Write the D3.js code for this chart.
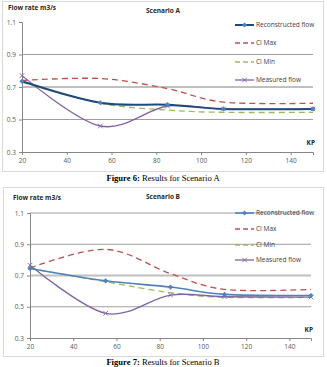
<!DOCTYPE html>
<html>
<head>
<meta charset="utf-8">
<script src="https://cdn.jsdelivr.net/npm/d3@7"></script>
<style>
  html, body { margin: 0; padding: 0; background: #fff; }
  svg { display: block; }
  .tick-label { font: 6.5px "Open Sans", sans-serif; fill: #595959; }
  .ttl { font: bold 6.5px "Open Sans", sans-serif; fill: #262626; }
  .leg { font: 6.5px "Open Sans", sans-serif; fill: #404040; }
  .cap { font: 8.6px "Liberation Serif", serif; fill: #000; }
</style>
</head>
<body>
<svg id="chart" width="327" height="367"></svg>
<script>
const kp = [20, 55, 85, 110, 150];
const xTicks = [20, 40, 60, 80, 100, 120, 140];
const yTicks = [0.3, 0.5, 0.7, 0.9, 1.1];
const seriesNames = ["Reconstructed flow", "CI Max", "CI Min", "Measured flow"];

const reconA = [0.735, 0.603, 0.591, 0.565, 0.565];
const ciMaxA = [0.740, 0.752, 0.690, 0.607, 0.600];
const ciMinA = [0.730, 0.600, 0.558, 0.544, 0.544];
const measA = [0.770, 0.460, 0.583, 0.565, 0.565];

const reconB = [0.745, 0.666, 0.626, 0.579, 0.572];
const ciMaxB = [0.748, 0.867, 0.712, 0.611, 0.611];
const ciMinB = [0.745, 0.660, 0.590, 0.560, 0.560];
const measB = [0.766, 0.458, 0.575, 0.564, 0.562];

const svg = d3.select("#chart");

const charts = [
  {
    title: "Scenario A", fig: "Figure 6:", caption: " Results for Scenario A",
    box: [2.5, 1.5, 321, 170], left: 22, right: 313, top: 22, bottom: 152,
    titleY: 13, unitX: 8, unitY: 10, topGrid: false, reconColor: "#1f497d", markColor: "#4f81bd", reconWidth: 2,
    legendY: [25, 43, 62, 80], kpY: 145, capY: 181,
    data: [reconA, ciMaxA, ciMinA, measA]
  },
  {
    title: "Scenario B", fig: "Figure 7:", caption: " Results for Scenario B",
    box: [3.5, 187.5, 320, 169], left: 30, right: 311, top: 213, bottom: 338,
    titleY: 199, unitX: 13, unitY: 200, topGrid: true, reconColor: "#4f81bd", markColor: "#4f81bd", reconWidth: 1.6,
    legendY: [213, 229, 245, 260], kpY: 332, capY: 365,
    data: [reconB, ciMaxB, ciMinB, measB]
  }
];

charts.forEach(drawChart);

function drawChart(c) {
  const g = svg.append("g");
  g.append("rect")
    .attr("x", c.box[0]).attr("y", c.box[1])
    .attr("width", c.box[2]).attr("height", c.box[3])
    .attr("fill", "#fff").attr("stroke", "#d9d9d9");

  const x = d3.scaleLinear().domain([20, 150]).range([c.left, c.right]);
  const y = d3.scaleLinear().domain([0.3, 1.1]).range([c.bottom, c.top]);

  // gridlines
  yTicks.slice(1).forEach((t) => {
    if (t === 1.1 && !c.topGrid) return;
    const mid = t === 0.7;
    g.append("line")
      .attr("x1", c.left).attr("x2", c.right)
      .attr("y1", y(t)).attr("y2", y(t))
      .attr("stroke", mid ? "#bfbfbf" : "#868686")
      .attr("stroke-width", mid ? 2 : 0.8);
  });

  // axes
  const yAxis = g.append("g").attr("transform", `translate(${c.left},0)`)
    .call(d3.axisLeft(y).tickValues(yTicks).tickSize(3).tickFormat(d3.format(".1f")));
  const xAxis = g.append("g").attr("transform", `translate(0,${c.bottom})`)
    .call(d3.axisBottom(x).tickValues(xTicks).tickSize(3).tickFormat(d3.format("d")));
  [yAxis, xAxis].forEach((a) => {
    a.select(".domain").attr("stroke", "#868686");
    a.selectAll(".tick line").attr("stroke", "#868686");
    a.selectAll(".tick text").attr("class", "tick-label").attr("font-size", null).attr("font-family", null);
  });
  yAxis.selectAll(".tick text").attr("x", -6);
  xAxis.selectAll(".tick text").attr("y", 6);

  g.append("text").attr("class", "ttl").attr("x", c.unitX).attr("y", c.unitY).text("Flow rate m3/s");
  g.append("text").attr("class", "ttl").attr("x", 163).attr("y", c.titleY)
    .attr("text-anchor", "middle").text(c.title);
  g.append("text").attr("class", "ttl").attr("x", c.right + 2).attr("y", c.kpY)
    .attr("text-anchor", "end").text("KP");

  const styles = [
    { color: c.reconColor, mark: c.markColor, width: c.reconWidth, dash: null, marker: "diamond" },
    { color: "#c0504d", width: 1.3, dash: "6,4", marker: null },
    { color: "#9bbb59", width: 1.3, dash: "6,4", marker: null },
    { color: "#8064a2", mark: "#8064a2", width: 1.3, dash: null, marker: "cross" }
  ];

  const line = d3.line()
    .x((d, i) => x(kp[i]))
    .y((d) => y(d))
    .curve(d3.curveCatmullRom.alpha(0));

  // draw order: CI Max, CI Min, Measured, Reconstructed on top
  [1, 2, 3, 0].forEach((si) => {
    const s = styles[si];
    const vals = c.data[si];
    g.append("path").datum(vals)
      .attr("d", line)
      .attr("fill", "none")
      .attr("stroke", s.color)
      .attr("stroke-width", s.width)
      .attr("stroke-dasharray", s.dash);
    vals.forEach((v, i) => drawMarker(g, s, x(kp[i]), y(v)));
  });

  // legend
  seriesNames.forEach((name, i) => {
    const s = styles[i];
    const ly = c.legendY[i];
    g.append("line")
      .attr("x1", 235).attr("x2", 254).attr("y1", ly).attr("y2", ly)
      .attr("stroke", s.color).attr("stroke-width", s.width)
      .attr("stroke-dasharray", s.dash ? "5,3" : null);
    drawMarker(g, s, 244.5, ly);
    g.append("text").attr("class", "leg").attr("x", 256).attr("y", ly + 2.3).text(name);
  });

  // caption
  const cap = g.append("text").attr("class", "cap").attr("x", 163).attr("y", c.capY)
    .attr("text-anchor", "middle");
  cap.append("tspan").attr("font-weight", "bold").text(c.fig);
  cap.append("tspan").text(c.caption);
}

function drawMarker(g, s, cx, cy) {
  if (s.marker === "diamond") {
    g.append("path")
      .attr("d", `M${cx},${cy - 2.6}L${cx + 2.6},${cy}L${cx},${cy + 2.6}L${cx - 2.6},${cy}Z`)
      .attr("fill", s.mark);
  } else if (s.marker === "cross") {
    g.append("path")
      .attr("d", `M${cx - 2.3},${cy - 2.3}L${cx + 2.3},${cy + 2.3}M${cx - 2.3},${cy + 2.3}L${cx + 2.3},${cy - 2.3}`)
      .attr("stroke", s.mark).attr("stroke-width", 0.9);
  }
}
</script>
</body>
</html>
